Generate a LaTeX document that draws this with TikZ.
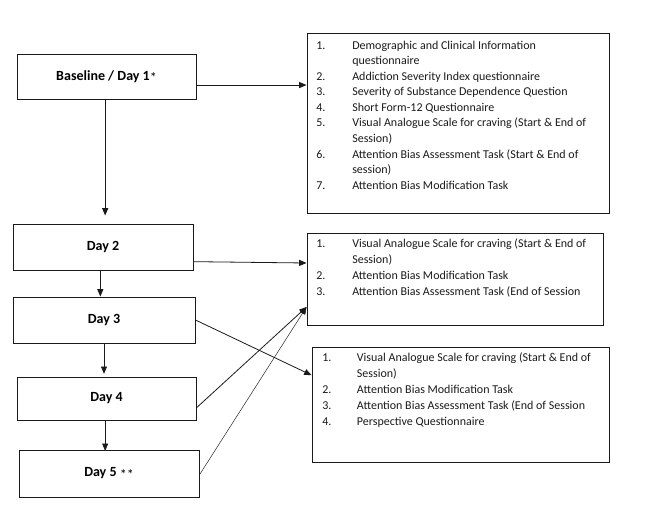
\documentclass[tikz,border=0pt]{standalone}
\usepackage{fontspec}
\setmainfont{Carlito}
\usetikzlibrary{arrows.meta,positioning,calc}
\definecolor{FlowInk}{HTML}{1A1A1A}

\tikzset{
  daybox/.style 2 args={draw=FlowInk,line width=0.7pt,minimum width=#1*0.75pt,
    minimum height=#2*0.75pt,inner sep=0pt,font=\bfseries\fontsize{10.5}{12}\selectfont},
  infobox/.style 2 args={draw=FlowInk,line width=0.7pt,minimum width=#1*0.75pt,
    minimum height=#2*0.75pt,inner sep=0pt},
  itemlist/.style={anchor=base west,inner sep=0pt,text=FlowInk,font=\fontsize{9}{12}\selectfont},
  flow/.style={draw=FlowInk,line width=0.6pt,-{Triangle[length=5.5pt,width=4.5pt]}},
}

\begin{document}
\begin{tikzpicture}[x=0.75pt,y=-0.75pt]
  \useasboundingbox (0,0) rectangle (669,518);

  % session boxes, left column
  \node[daybox={179}{45}] (base) at (106.5,76.5) {Baseline / Day 1{\mdseries\raisebox{-0.35ex}{*}}};
  \node[daybox={180}{46}] (day2) at (103,247) {Day 2};
  \node[daybox={182}{46}] (day3) at (104,320) {Day 3};
  \node[daybox={179}{43}] (day4) at (106.5,398.5) {Day 4};
  \node[daybox={180}{47}] (day5) at (109,473.5) {Day 5 {\mdseries\raisebox{-0.35ex}{**}}};

  % measures, right column
  \node[infobox={302}{180}] (infoA) at (458,123) {};
  \node[infobox={296}{92}] (infoB) at (455,279) {};
  \node[infobox={297}{115}] (infoC) at (460.5,404.5) {};

  \node[itemlist,font=\fontsize{9}{11.7}\selectfont] (listA) at (316,49) {%
    \begin{tabular}[t]{@{}p{27pt}@{}l@{}}
      1. & Demographic and Clinical Information\\
         & questionnaire\\
      2. & Addiction Severity Index questionnaire\\
      3. & Severity of Substance Dependence Question\\
      4. & Short Form-12 Questionnaire\\
      5. & Visual Analogue Scale for craving (Start \& End of\\
         & Session)\\
      6. & Attention Bias Assessment Task (Start \& End of\\
         & session)\\
      7. & Attention Bias Modification Task
    \end{tabular}};
  \node[itemlist] (listB) at (316,247) {%
    \begin{tabular}[t]{@{}p{27pt}@{}l@{}}
      1. & Visual Analogue Scale for craving (Start \& End of\\
         & Session)\\
      2. & Attention Bias Modification Task\\
      3. & Attention Bias Assessment Task (End of Session
    \end{tabular}};
  \node[itemlist] (listC) at (322,361) {%
    \begin{tabular}[t]{@{}p{26pt}@{}l@{}}
      1. & Visual Analogue Scale for craving (Start \& End of\\
         & Session)\\
      2. & Attention Bias Modification Task\\
      3. & Attention Bias Assessment Task (End of Session\\
      4. & Perspective Questionnaire
    \end{tabular}};

  % arrows
  \coordinate (tipB) at ([yshift=-21pt]infoB.west);
  \draw[flow] ([yshift=-6.4pt]base.east) -- ([yshift=-6.4pt]base.east -| infoA.west);
  \draw[flow,shorten >=6pt] ([xshift=-1pt]base.south) -- ([xshift=-1pt]base.south |- day2.north);
  \draw[flow] ([xshift=-2pt]day2.south) -- ([xshift=-2pt]day2.south |- day3.north);
  \draw[flow,shorten >=2pt] (day3.south) -- (day3.south |- day4.north);
  \draw[flow,shorten >=-1pt] ([xshift=-1pt]day4.south) -- ([xshift=-1pt]day4.south |- day5.north);
  \draw[flow] ([yshift=-11pt]day2.east) -- ([yshift=-12pt]day2.east -| infoB.west);
  \draw[flow] (day3.east) -- ([yshift=22pt]infoC.west);
  \draw[flow] ([yshift=-7pt]day4.east) -- (tipB);
  \draw[flow,line width=0.35pt] ([yshift=-1pt]day5.east) -- (tipB);
\end{tikzpicture}
\end{document}
